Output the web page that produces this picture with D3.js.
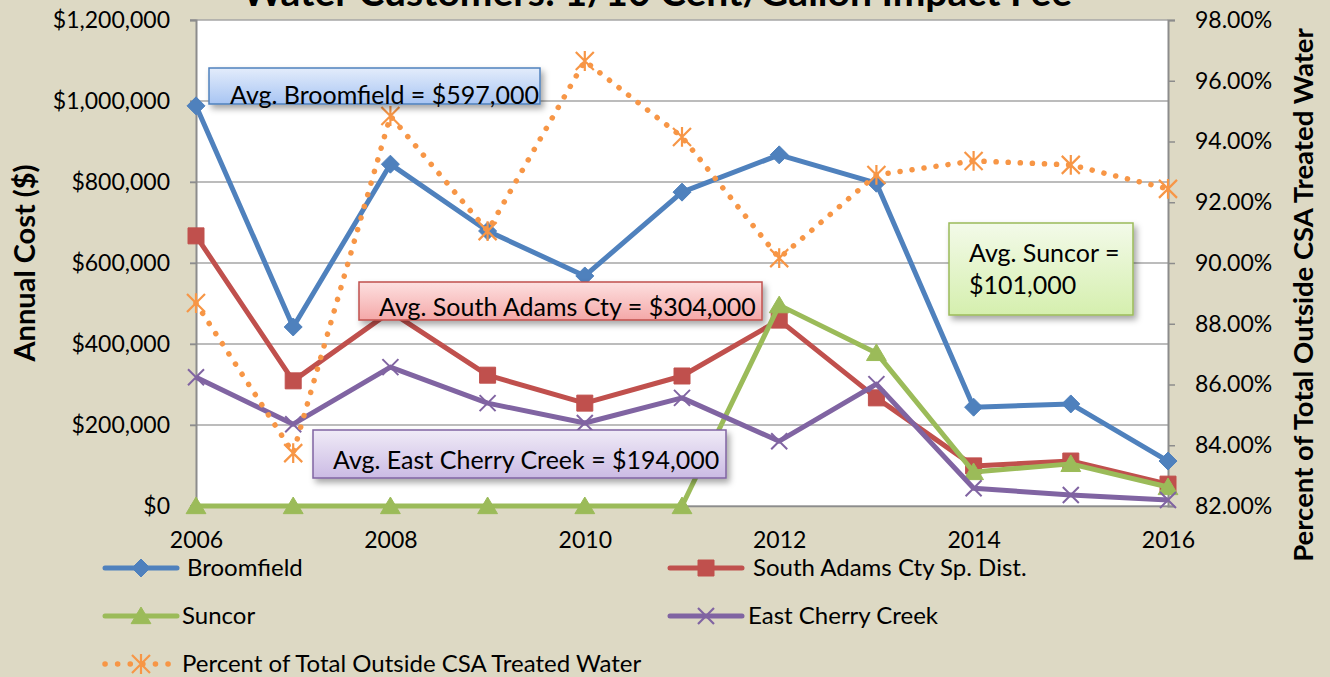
<!DOCTYPE html>
<html>
<head>
<meta charset="utf-8">
<script src="https://cdn.jsdelivr.net/npm/d3@7"></script>
<style>
  html, body { margin: 0; padding: 0; background: #ddd9c4; }
  svg { display: block; font-family: Lato, "Open Sans", sans-serif; }
</style>
</head>
<body>
<svg id="chart" width="1330" height="677"></svg>
<script>
var years = [2006, 2007, 2008, 2009, 2010, 2011, 2012, 2013, 2014, 2015, 2016];
var yearLabels = [2006, 2008, 2010, 2012, 2014, 2016];

var broomfield      = [988000, 442000, 844000, 679000, 568000, 775000, 867000, 797000, 244000, 252000, 111000];
var southAdams      = [667000, 309000, 480000, 323000, 254000, 321000, 459000, 267000,  99000, 111000,  54000];
var suncor          = [     0,      0,      0,      0,      0,      0, 496000, 378000,  84000, 104000,  47000];
var eastCherryCreek = [318000, 202000, 343000, 254000, 205000, 267000, 160000, 301000,  44000,  27000,  15000];
var percentOutside  = [88.68, 83.74, 94.84, 91.05, 96.65, 94.15, 90.16, 92.90, 93.36, 93.23, 92.44];

var costTicks = [0, 200000, 400000, 600000, 800000, 1000000, 1200000];
var pctTicks = [82, 84, 86, 88, 90, 92, 94, 96, 98];

var seriesNames = ['Broomfield', 'South Adams Cty Sp. Dist.', 'Suncor', 'East Cherry Creek',
                   'Percent of Total Outside CSA Treated Water'];
var avgNotes = [
    {lines: ['Avg. Broomfield = $597,000'], key: 'blue'},
    {lines: ['Avg. South Adams Cty = $304,000'], key: 'red'},
    {lines: ['Avg. East Cherry Creek = $194,000'], key: 'purple'},
    {lines: ['Avg. Suncor =', '$101,000'], key: 'green'}
];

var colors = {
    blue: '#4f81bd',
    red: '#c0504d',
    green: '#9bbb59',
    purple: '#8064a2',
    orange: '#f79646'
};

var margin = {left: 196, right: 162, top: 20, bottom: 171},
    W = 1330, H = 677,
    plotW = W - margin.left - margin.right,
    plotH = H - margin.top - margin.bottom;

var svg = d3.select('#chart');

var x = d3.scaleLinear().domain([2006, 2016]).range([margin.left, margin.left + plotW]);
var y = d3.scaleLinear().domain([0, 1200000]).range([margin.top + plotH, margin.top]);
var y2 = d3.scaleLinear().domain([82, 98]).range([margin.top + plotH, margin.top]);

var defs = svg.append('defs');
var shadow = defs.append('filter').attr('id', 'shadow')
    .attr('x', '-10%').attr('y', '-30%').attr('width', '130%').attr('height', '180%');
shadow.append('feDropShadow')
    .attr('dx', 3).attr('dy', 4).attr('stdDeviation', 3)
    .attr('flood-color', '#000').attr('flood-opacity', 0.35);

var gradStops = {
    blue: ['#e3ecfb', '#a8c5f3'],
    red: ['#fde0e0', '#f4a8a8'],
    purple: ['#f0ebf7', '#cbbbe4'],
    green: ['#f3fae9', '#d5efae']
};
Object.keys(gradStops).forEach(function(k) {
    var g = defs.append('linearGradient').attr('id', 'grad-' + k)
        .attr('x1', 0).attr('y1', 0).attr('x2', 0).attr('y2', 1);
    g.append('stop').attr('offset', '0%').attr('stop-color', gradStops[k][0]);
    g.append('stop').attr('offset', '100%').attr('stop-color', gradStops[k][1]);
});

// title (cut off at the top, as in the source)
svg.append('text')
    .attr('x', 657).attr('y', 6)
    .attr('text-anchor', 'middle')
    .attr('font-size', 39).attr('font-weight', 'bold')
    .attr('fill', '#000')
    .text('Water Customers: 1/10 Cent/Gallon Impact Fee');

// plot area
svg.append('rect')
    .attr('x', margin.left).attr('y', margin.top)
    .attr('width', plotW).attr('height', plotH)
    .attr('fill', '#fff');

// gridlines
svg.append('g')
    .selectAll('line')
    .data(costTicks)
  .enter().append('line')
    .attr('x1', margin.left - 6).attr('x2', margin.left + plotW)
    .attr('y1', function(d) { return y(d); })
    .attr('y2', function(d) { return y(d); })
    .attr('stroke', '#a6a6a6').attr('stroke-width', 1.5);

// left axis
var leftAxis = svg.append('g')
    .attr('transform', 'translate(' + margin.left + ',0)')
    .call(d3.axisLeft(y).tickValues(costTicks).tickSize(6).tickPadding(20)
            .tickFormat(function(d) { return '$' + d3.format(',')(d); }));
leftAxis.select('.domain').attr('stroke', '#8c8c8c').attr('stroke-width', 2);
leftAxis.selectAll('.tick line').attr('stroke', '#8c8c8c').attr('stroke-width', 1.5);
leftAxis.selectAll('.tick text')
    .attr('font-size', 23).attr('font-family', 'Lato, sans-serif').attr('fill', '#000');

// right axis
var rightAxis = svg.append('g')
    .attr('transform', 'translate(' + (margin.left + plotW) + ',0)')
    .call(d3.axisRight(y2).tickValues(pctTicks).tickSize(7).tickPadding(20)
            .tickFormat(function(d) { return d.toFixed(2) + '%'; }));
rightAxis.select('.domain').attr('stroke', '#8c8c8c').attr('stroke-width', 2);
rightAxis.selectAll('.tick line').attr('stroke', '#8c8c8c').attr('stroke-width', 1.5);
rightAxis.selectAll('.tick text')
    .attr('font-size', 23).attr('font-family', 'Lato, sans-serif').attr('fill', '#000');

// bottom axis labels
var bottomAxis = svg.append('g')
    .attr('transform', 'translate(0,' + (margin.top + plotH) + ')')
    .call(d3.axisBottom(x).tickValues(yearLabels).tickSize(0).tickPadding(26)
            .tickFormat(d3.format('d')));
bottomAxis.select('.domain').attr('stroke', '#8c8c8c').attr('stroke-width', 1.5);
bottomAxis.selectAll('.tick text')
    .attr('font-size', 23).attr('font-family', 'Lato, sans-serif').attr('fill', '#000');

// axis titles
svg.append('text')
    .attr('transform', 'translate(35,263) rotate(-90)')
    .attr('text-anchor', 'middle')
    .attr('font-size', 29).attr('font-weight', 'bold')
    .text('Annual Cost ($)');
svg.append('text')
    .attr('transform', 'translate(1313,295) rotate(-90)')
    .attr('text-anchor', 'middle')
    .attr('font-size', 27.5).attr('font-weight', 'bold')
    .text('Percent of Total Outside CSA Treated Water');

// marker shapes
function diamond(s) {
    return 'M0,' + (-s) + 'L' + s + ',0L0,' + s + 'L' + (-s) + ',0Z';
}
function square(s) {
    return 'M' + (-s) + ',' + (-s) + 'H' + s + 'V' + s + 'H' + (-s) + 'Z';
}
function triangle(s) {
    return 'M0,' + (-s) + 'L' + (s * 1.1) + ',' + (s * 0.85) + 'L' + (-s * 1.1) + ',' + (s * 0.85) + 'Z';
}
function cross(s) {
    return 'M' + (-s) + ',' + (-s) + 'L' + s + ',' + s + 'M' + s + ',' + (-s) + 'L' + (-s) + ',' + s;
}
function star(s) {
    return cross(s) + 'M0,' + (-s * 1.1) + 'V' + (s * 1.1);
}

var costSeries = [
    {name: seriesNames[0], values: broomfield, color: colors.blue, marker: diamond(9), fill: true},
    {name: seriesNames[1], values: southAdams, color: colors.red, marker: square(8), fill: true},
    {name: seriesNames[2], values: suncor, color: colors.green, marker: triangle(9), fill: true},
    {name: seriesNames[3], values: eastCherryCreek, color: colors.purple, marker: cross(8), fill: false}
];

var line = d3.line()
    .x(function(d, i) { return x(years[i]); })
    .y(function(d) { return y(d); });

costSeries.forEach(function(s) {
    var g = svg.append('g');
    g.append('path')
        .datum(s.values)
        .attr('d', line)
        .attr('fill', 'none')
        .attr('stroke', s.color)
        .attr('stroke-width', 5)
        .attr('stroke-linejoin', 'round');
    g.selectAll('path.mk')
        .data(s.values)
      .enter().append('path')
        .attr('class', 'mk')
        .attr('transform', function(d, i) { return 'translate(' + x(years[i]) + ',' + y(d) + ')'; })
        .attr('d', s.marker)
        .attr('fill', s.fill ? s.color : 'none')
        .attr('stroke', s.color)
        .attr('stroke-width', s.fill ? 1 : 2);
});

// percent series (secondary axis)
var pctLine = d3.line()
    .x(function(d, i) { return x(years[i]); })
    .y(function(d) { return y2(d); });
var pg = svg.append('g');
pg.append('path')
    .datum(percentOutside)
    .attr('d', pctLine)
    .attr('fill', 'none')
    .attr('stroke', colors.orange)
    .attr('stroke-width', 5.5)
    .attr('stroke-linecap', 'round')
    .attr('stroke-dasharray', '0.1 12');
pg.selectAll('path.mk')
    .data(percentOutside)
  .enter().append('path')
    .attr('class', 'mk')
    .attr('transform', function(d, i) { return 'translate(' + x(years[i]) + ',' + y2(d) + ')'; })
    .attr('d', star(9))
    .attr('fill', 'none')
    .attr('stroke', colors.orange)
    .attr('stroke-width', 2.2);

// average callouts
var noteBoxes = [
    {x: 209, y: 68, w: 331, h: 36, tx: 230, ty: [104]},
    {x: 359, y: 282, w: 403, h: 38, tx: 379, ty: [316]},
    {x: 313, y: 430, w: 413, h: 48, tx: 333, ty: [469]},
    {x: 949, y: 223, w: 184, h: 92, tx: 969, ty: [262, 294]}
];
avgNotes.forEach(function(n, i) {
    var b = noteBoxes[i];
    var g = svg.append('g');
    g.append('rect')
        .attr('x', b.x).attr('y', b.y).attr('width', b.w).attr('height', b.h)
        .attr('fill', 'url(#grad-' + n.key + ')')
        .attr('stroke', colors[n.key]).attr('stroke-width', 1.5)
        .attr('filter', 'url(#shadow)');
    n.lines.forEach(function(t, j) {
        g.append('text')
            .attr('x', b.tx).attr('y', b.ty[j])
            .attr('font-size', 25).attr('fill', '#000')
            .text(t);
    });
});

// legend
var legendItems = [
    {name: seriesNames[0], color: colors.blue, marker: diamond(9), fill: true, lx: 105, ly: 568, tx: 187},
    {name: seriesNames[1], color: colors.red, marker: square(8), fill: true, lx: 670, ly: 568, tx: 753},
    {name: seriesNames[2], color: colors.green, marker: triangle(9), fill: true, lx: 105, ly: 616, tx: 182},
    {name: seriesNames[3], color: colors.purple, marker: cross(8), fill: false, lx: 670, ly: 616, tx: 748},
    {name: seriesNames[4], color: colors.orange, marker: star(9), fill: false, lx: 105, ly: 664, tx: 182, dotted: true}
];
legendItems.forEach(function(it) {
    var g = svg.append('g');
    var ln = g.append('line')
        .attr('x1', it.lx).attr('x2', it.lx + 72)
        .attr('y1', it.ly).attr('y2', it.ly)
        .attr('stroke', it.color)
        .attr('stroke-width', it.dotted ? 5.5 : 5)
        .attr('stroke-linecap', 'round');
    if (it.dotted) ln.attr('stroke-dasharray', '0.1 12.5');
    g.append('path')
        .attr('transform', 'translate(' + (it.lx + 36) + ',' + it.ly + ')')
        .attr('d', it.marker)
        .attr('fill', it.fill ? it.color : 'none')
        .attr('stroke', it.color)
        .attr('stroke-width', it.fill ? 1 : 2.2);
    g.append('text')
        .attr('x', it.tx).attr('y', it.ly + 8)
        .attr('font-size', 24).attr('fill', '#000')
        .text(it.name);
});
</script>
</body>
</html>
